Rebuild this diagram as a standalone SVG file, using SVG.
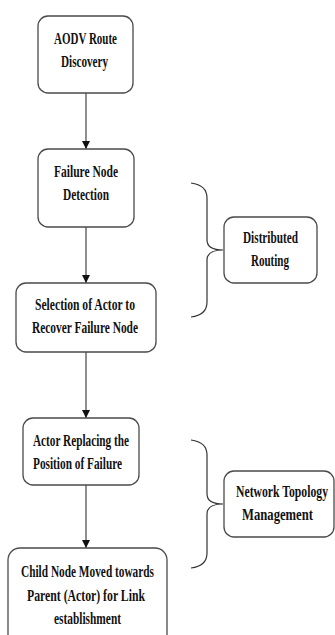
<svg xmlns="http://www.w3.org/2000/svg" width="335" height="635" viewBox="0 0 335 635">
<style>
.box{fill:#fff;stroke:#4a4a4a;stroke-width:1.3}
.t{font-family:"Liberation Serif","Times New Roman",serif;font-weight:bold;font-size:16px;fill:#111}
.c{fill:none;stroke:#333;stroke-width:1.1}
.br{fill:none;stroke:#333;stroke-width:1.2}
</style>
<defs>
<marker id="ah" markerWidth="8" markerHeight="10" refX="8" refY="5" orient="auto" markerUnits="userSpaceOnUse">
<path d="M0,1 L8,5 L0,9 Z" fill="#111"/>
</marker>
</defs>
<rect width="335" height="635" fill="#fff"/>
<g id="connectors">
<line class="c" x1="86" y1="93" x2="86" y2="149" marker-end="url(#ah)"/>
<line class="c" x1="86" y1="227" x2="86" y2="283" marker-end="url(#ah)"/>
<line class="c" x1="86" y1="352" x2="86" y2="418" marker-end="url(#ah)"/>
<line class="c" x1="86" y1="485" x2="86" y2="548" marker-end="url(#ah)"/>
<path class="br" d="M191,183 Q207,185 207,198 L207,240 Q207,250 223,250 Q207,250 207,260 L207,302 Q207,315 191,317"/>
<path class="br" d="M191,440 Q207,442 207,455 L207,494 Q207,504 223,504 Q207,504 207,514 L207,553 Q207,566 191,568"/>
</g>
<g id="n1">
<rect class="box" x="38" y="16" width="95" height="77" rx="10"/>
<text class="t" x="54" y="43.5" textLength="63" lengthAdjust="spacingAndGlyphs">AODV Route</text>
<text class="t" x="61" y="67" textLength="47" lengthAdjust="spacingAndGlyphs">Discovery</text>
</g>
<g id="n2">
<rect class="box" x="38" y="149" width="96" height="78" rx="10"/>
<text class="t" x="54" y="177" textLength="64" lengthAdjust="spacingAndGlyphs">Failure Node</text>
<text class="t" x="63" y="200" textLength="46" lengthAdjust="spacingAndGlyphs">Detection</text>
</g>
<g id="n3">
<rect class="box" x="16" y="283" width="140" height="69" rx="10"/>
<text class="t" x="35" y="310" textLength="100" lengthAdjust="spacingAndGlyphs">Selection of Actor to</text>
<text class="t" x="32" y="333" textLength="106" lengthAdjust="spacingAndGlyphs">Recover Failure Node</text>
</g>
<g id="n4">
<rect class="box" x="23" y="418" width="116" height="67" rx="10"/>
<text class="t" x="33" y="446" textLength="96" lengthAdjust="spacingAndGlyphs">Actor Replacing the</text>
<text class="t" x="33" y="469" textLength="89" lengthAdjust="spacingAndGlyphs">Position of Failure</text>
</g>
<g id="n5">
<rect class="box" x="8" y="548" width="159" height="100" rx="12"/>
<text class="t" x="21" y="577" textLength="133" lengthAdjust="spacingAndGlyphs">Child Node Moved towards</text>
<text class="t" x="27" y="600.5" textLength="118" lengthAdjust="spacingAndGlyphs">Parent (Actor) for Link</text>
<text class="t" x="54" y="624" textLength="67" lengthAdjust="spacingAndGlyphs">establishment</text>
</g>
<g id="dr">
<rect class="box" x="224" y="217" width="93" height="66" rx="10"/>
<text class="t" x="243" y="243" textLength="55" lengthAdjust="spacingAndGlyphs">Distributed</text>
<text class="t" x="251" y="266" textLength="38" lengthAdjust="spacingAndGlyphs">Routing</text>
</g>
<g id="ntm">
<rect class="box" x="224" y="471" width="110" height="66" rx="10"/>
<text class="t" transform="translate(236,497) scale(0.77,1)" x="0" y="0" textLength="119.5" lengthAdjust="spacingAndGlyphs">Network Topology</text>
<text class="t" transform="translate(242,520) scale(0.77,1)" x="0" y="0" textLength="92.2" lengthAdjust="spacingAndGlyphs">Management</text>
</g>
</svg>
